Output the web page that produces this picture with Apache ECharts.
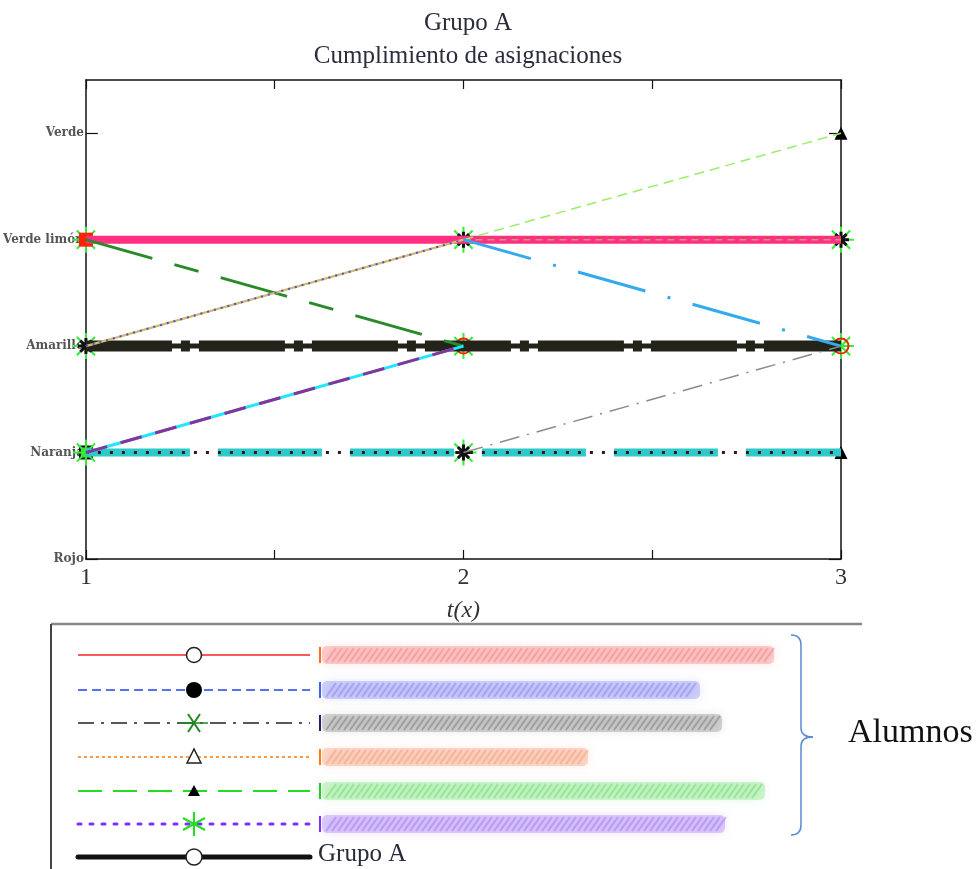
<!DOCTYPE html>
<html><head><meta charset="utf-8">
<script src="https://cdn.jsdelivr.net/npm/echarts@6/dist/echarts.min.js"></script>
<style>html,body{margin:0;padding:0;background:#fff}#c{width:977px;height:869px}</style>
</head><body><div id="c"></div>
<script>
// ---- data ----
const tValues = [1, 2, 3];
const levelLabels = ['Rojo', 'Naranja', 'Amarillo', 'Verde limón', 'Verde'];
const levelTicks = [0, 1, 2, 3, 4];
const grupoA = [2, 2, 2];
const alumnoRosa = [3, 3, 3];
const alumnoNaranjaTramo = [null, 3, 3];
const alumnoCian = [1, 1, 1];
const alumnoVerdeOscuro = [3, 2, null];
const alumnoPunteado = [2, 3, null];
const alumnoVerdeClaro = [null, 3, 4];
const alumnoCianMorado = [1, 2, null];
const alumnoAzul = [null, 3, 2];
const alumnoGris = [null, 1, 2];
const estrellasVerdes = [[1, 3], [1, 2], [1, 1], [2, 3], [2, 2], [2, 1], [3, 3], [3, 2]];
const estrellasNegras = [[1, 2], [2, 3], [2, 1], [3, 3]];
const circulosRojos = [[2, 2], [3, 2]];
const triangulosNegros = [[3, 4], [3, 1]];
const cuadradosRojos = [[1, 3]];
const cuadradosNegros = [[1, 1]];
const titleLines = ['Grupo A', 'Cumplimiento de asignaciones'];
const xAxisName = 't(x)';
const groupLabel = 'Grupo A';
const bracketLabel = 'Alumnos';

// ---- helpers ----
const pts = vals => tValues.map((t, i) => [t, vals[i]]).filter(p => p[1] !== null);
function line(vals, color, width, dash, cap) {
  return {
    type: 'line', data: pts(vals), symbol: 'none', silent: true, animation: false,
    lineStyle: { color: color, width: width, type: dash || 'solid', cap: cap || 'butt' }
  };
}
function marks(data, symbol, size, color, border, bw) {
  return {
    type: 'scatter', data: data, symbol: symbol, symbolSize: size, silent: true, animation: false, clip: false,
    itemStyle: { color: color, borderColor: border, borderWidth: bw, opacity: 1 }
  };
}
const ASTER = 'path://M10,0L10,20M0,10L20,10M3,3L17,17M3,17L17,3';

const serif = 'Liberation Serif';
const axisCommon = {
  type: 'value', min: 1, max: 3, interval: 0.5,
  axisLine: { show: true, onZero: false, lineStyle: { color: '#111', width: 1.5 } },
  axisTick: { show: true, inside: true, length: 9, lineStyle: { color: '#111', width: 1.2 } },
  splitLine: { show: false }
};
const yCommon = {
  type: 'value', min: 0, max: 4.5, interval: 1,
  axisLine: { show: true, onZero: false, lineStyle: { color: '#111', width: 1.5 } },
  axisTick: { show: true, inside: true, length: 12, customValues: levelTicks, lineStyle: { color: '#111', width: 1.2 } },
  splitLine: { show: false }
};

// ---- legend graphic ----
const rows = [655, 690, 723, 757, 791, 824, 857];
const L0 = 78, L1 = 310, SX = 194;
const g = [];
function hl(y, stroke, w, dash, cap) {
  g.push({ type: 'line', shape: { x1: L0, y1: y, x2: L1, y2: y }, style: { stroke: stroke, lineWidth: w, lineDash: dash || null, lineCap: cap || 'butt' } });
}
function redact(y, w, fill, hatch, mark) {
  g.push({ type: 'rect', shape: { x: 322, y: y - 9, width: w, height: 18, r: 5 },
    style: { fill: fill, shadowBlur: 10, shadowColor: fill } });
  for (let x = 326; x < 322 + w - 8; x += 6) {
    g.push({ type: 'line', shape: { x1: x, y1: y + 7, x2: x + 10, y2: y - 7 },
      style: { stroke: hatch, lineWidth: 2, shadowBlur: 4, shadowColor: hatch } });
  }
  g.push({ type: 'line', shape: { x1: 320, y1: y - 8, x2: 320, y2: y + 8 }, style: { stroke: mark, lineWidth: 2 } });
}
// row 1
hl(rows[0], '#ff2020', 1.5);
g.push({ type: 'circle', shape: { cx: SX, cy: rows[0], r: 7.5 }, style: { fill: '#fff', stroke: '#222', lineWidth: 1.5 } });
redact(rows[0], 452, 'rgba(248,160,160,0.5)', 'rgba(235,90,90,0.3)', '#ff6a20');
// row 2
hl(rows[1], '#2040ee', 1.5, [9, 5]);
g.push({ type: 'circle', shape: { cx: SX, cy: rows[1], r: 8 }, style: { fill: '#000' } });
redact(rows[1], 378, 'rgba(165,165,245,0.5)', 'rgba(90,90,230,0.3)', '#4060ee');
// row 3
hl(rows[2], '#222', 1.5, [16, 7, 3, 7]);
g.push({ type: 'line', shape: { x1: SX - 6, y1: rows[2] - 9, x2: SX + 6, y2: rows[2] + 9 }, style: { stroke: '#228822', lineWidth: 2 } });
g.push({ type: 'line', shape: { x1: SX - 6, y1: rows[2] + 9, x2: SX + 6, y2: rows[2] - 9 }, style: { stroke: '#228822', lineWidth: 2 } });
g.push({ type: 'line', shape: { x1: SX - 14, y1: rows[2], x2: SX + 14, y2: rows[2] }, style: { stroke: '#228822', lineWidth: 1.5 } });
redact(rows[2], 400, 'rgba(170,170,170,0.5)', 'rgba(90,90,90,0.35)', '#222266');
// row 4
hl(rows[3], '#ff7a10', 1.5, [3, 3]);
g.push({ type: 'polygon', shape: { points: [[SX, rows[3] - 8], [SX - 7, rows[3] + 6], [SX + 7, rows[3] + 6]] }, style: { fill: '#fff', stroke: '#222', lineWidth: 1.5 } });
redact(rows[3], 266, 'rgba(247,180,150,0.5)', 'rgba(240,120,80,0.3)', '#ff7a10');
// row 5
hl(rows[4], '#22dd22', 2, [24, 11]);
g.push({ type: 'polygon', shape: { points: [[SX, rows[4] - 6], [SX - 6, rows[4] + 5], [SX + 6, rows[4] + 5]] }, style: { fill: '#000' } });
redact(rows[4], 443, 'rgba(160,235,160,0.5)', 'rgba(60,200,60,0.3)', '#22cc22');
// row 6
hl(rows[5], '#7a30ff', 3, [3, 9], 'round');
[[0, -12, 0, 12], [-11, -6, 11, 6], [-11, 6, 11, -6]].forEach(s => {
  g.push({ type: 'line', shape: { x1: SX + s[0], y1: rows[5] + s[1], x2: SX + s[2], y2: rows[5] + s[3] }, style: { stroke: '#22dd22', lineWidth: 2 } });
});
redact(rows[5], 403, 'rgba(195,165,245,0.55)', 'rgba(130,70,230,0.3)', '#7a30ff');
// row 7
hl(rows[6], '#111', 5, null, 'round');
g.push({ type: 'circle', shape: { cx: SX, cy: rows[6], r: 8 }, style: { fill: '#fff', stroke: '#222', lineWidth: 1.5 } });
g.push({ type: 'text', left: 318, top: rows[6] - 15, style: { text: groupLabel, font: '25px "' + serif + '"', fill: '#2a2a3a' } });
// legend box
g.push({ type: 'line', shape: { x1: 51, y1: 624, x2: 862, y2: 624 }, style: { stroke: '#888', lineWidth: 2.5 } });
g.push({ type: 'line', shape: { x1: 51, y1: 624, x2: 51, y2: 869 }, style: { stroke: '#444', lineWidth: 2 } });
// bracket
const bc = '#5a8ad0';
g.push({ type: 'bezierCurve', shape: { x1: 791, y1: 635, cpx1: 801, cpy1: 635, x2: 801, y2: 645 }, style: { stroke: bc, lineWidth: 1.5, fill: null } });
g.push({ type: 'line', shape: { x1: 801, y1: 645, x2: 801, y2: 728 }, style: { stroke: bc, lineWidth: 1.5 } });
g.push({ type: 'bezierCurve', shape: { x1: 801, y1: 728, cpx1: 801, cpy1: 737, x2: 813, y2: 737 }, style: { stroke: bc, lineWidth: 1.5, fill: null } });
g.push({ type: 'bezierCurve', shape: { x1: 813, y1: 737, cpx1: 801, cpy1: 737, x2: 801, y2: 746 }, style: { stroke: bc, lineWidth: 1.5, fill: null } });
g.push({ type: 'line', shape: { x1: 801, y1: 746, x2: 801, y2: 825 }, style: { stroke: bc, lineWidth: 1.5 } });
g.push({ type: 'bezierCurve', shape: { x1: 801, y1: 825, cpx1: 801, cpy1: 835, x2: 791, y2: 835 }, style: { stroke: bc, lineWidth: 1.5, fill: null } });
g.push({ type: 'text', left: 848, top: 716, style: { text: bracketLabel, font: '34px "' + serif + '"', fill: '#111' } });

const chart = echarts.init(document.getElementById('c'), null, { renderer: 'canvas' });
chart.setOption({
  animation: false,
  backgroundColor: '#fff',
  title: {
    text: titleLines.join('\n'), left: 463, top: 2, textAlign: 'center',
    textStyle: { fontFamily: serif, fontSize: 25, fontWeight: 'normal', color: '#2c2c3c', lineHeight: 33 }
  },
  grid: { left: 85, right: 136, top: 80, bottom: 310 },
  xAxis: [
    Object.assign({}, axisCommon, {
      position: 'bottom',
      name: xAxisName, nameLocation: 'middle', nameGap: 40,
      nameTextStyle: { fontFamily: serif, fontSize: 24, fontStyle: 'italic', color: '#333' },
      axisLabel: { margin: 7, fontFamily: serif, fontSize: 24, color: '#333',
        formatter: v => Number.isInteger(v) ? String(v) : '' }
    }),
    Object.assign({}, axisCommon, { position: 'top', axisLabel: { show: false } })
  ],
  yAxis: [
    Object.assign({}, yCommon, {
      position: 'left',
      axisLabel: { margin: 2, fontFamily: 'DejaVu Serif', fontWeight: 'bold', fontSize: 12, color: '#555',
        customValues: levelTicks,
        formatter: v => Number.isInteger(v) ? (levelLabels[v] || '') : '' }
    }),
    Object.assign({}, yCommon, { position: 'right', axisLabel: { show: false } })
  ],
  series: [
    line(alumnoRosa, '#ff2f82', 8),
    line(alumnoNaranjaTramo, '#c8a070', 1.5, [7, 5]),
    line(grupoA, '#23231a', 5),
    line(grupoA, '#23231a', 11, [86, 9, 9, 9]),
    line(alumnoCian, '#2ccaca', 8, [104, 28]),
    line(alumnoCian, '#3a1616', 3, [3, 9]),
    line(alumnoVerdeOscuro, '#2a8a2a', 3, [69, 23, 25, 23]),
    line(alumnoPunteado, '#c8c070', 2.5),
    line(alumnoPunteado, '#7040c8', 2, [2, 5]),
    line(alumnoVerdeClaro, '#99ee66', 1.5, [10, 6]),
    line(alumnoCianMorado, '#22e6ff', 3),
    line(alumnoCianMorado, '#883399', 3, [22, 14]),
    line(alumnoAzul, '#33aaee', 3, [70, 23, 3, 23]),
    line(alumnoGris, '#8a8a8a', 1.5, [20, 8, 2, 8]),
    marks(cuadradosNegros, 'rect', 12, '#33dd33', '#111', 2),
    marks(estrellasVerdes, ASTER, 26, 'rgba(0,0,0,0)', '#33ee33', 2),
    marks(cuadradosRojos, 'rect', 14, '#ff2200', '#ff2200', 0),
    marks(circulosRojos, 'circle', 15, 'rgba(0,0,0,0)', '#ee2200', 2),
    marks(estrellasNegras, ASTER, 16, 'rgba(0,0,0,0)', '#111', 3),
    marks(triangulosNegros, 'triangle', 13, '#000', '#000', 0)
  ],
  graphic: g
});
</script>
</body></html>
